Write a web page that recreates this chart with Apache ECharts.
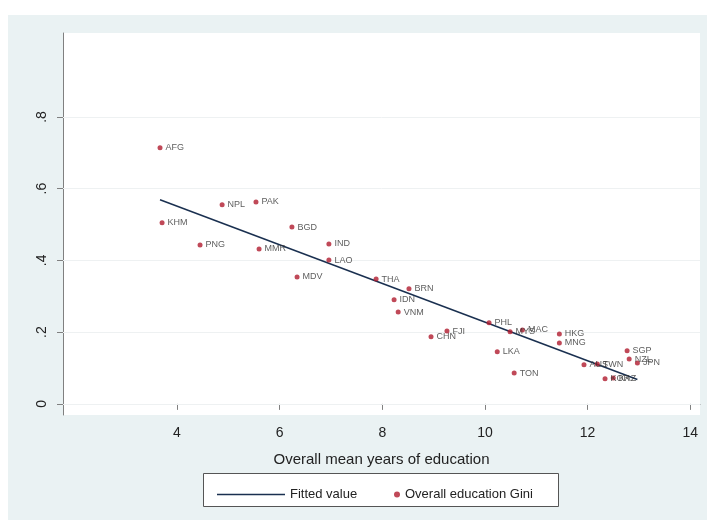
<!DOCTYPE html>
<html><head><meta charset="utf-8">
<script src="https://cdn.jsdelivr.net/npm/echarts@6/dist/echarts.min.js"></script>
<style>html,body{margin:0;padding:0;background:#fff}#c{width:707px;height:520px}</style>
</head><body><div id="c"></div>
<script>
// Data
const countries = ['AFG','KHM','NPL','PAK','PNG','MMR','BGD','IND','LAO','MDV','THA','BRN','IDN','VNM','FJI','CHN','PHL','MYS','MAC','LKA','TON','HKG','MNG','AUS','TWN','SGP','NZL','JPN','KOR','KAZ'];
const meanYears = [3.67,3.71,4.88,5.54,4.45,5.60,6.24,6.96,6.96,6.34,7.88,8.52,8.23,8.31,9.26,8.95,10.08,10.49,10.73,10.24,10.57,11.45,11.45,11.93,12.19,12.77,12.81,12.97,12.34,12.50];
const eduGini = [0.714,0.505,0.555,0.563,0.443,0.432,0.493,0.446,0.401,0.354,0.348,0.321,0.290,0.256,0.203,0.187,0.226,0.201,0.206,0.145,0.086,0.195,0.170,0.109,0.111,0.148,0.125,0.114,0.070,0.072];
const fitX = [3.67, 12.97];
const fitY = [0.569, 0.068];
const xTicks = [4,6,8,10,12,14];
const yTicks = [0,0.2,0.4,0.6,0.8];
const yTickLabels = ['0','.2','.4','.6','.8'];

const font = 'Liberation Sans, Arial, sans-serif';
const chart = echarts.init(document.getElementById('c'), null, {renderer:'canvas'});
const scatterData = countries.map((n,i)=>({name:n, value:[meanYears[i], eduGini[i]]}));
const fitData = fitX.map((x,i)=>[x, fitY[i]]);

chart.setOption({
  backgroundColor:'#ffffff',
  animation:false,
  textStyle:{fontFamily:font},
  graphic:[
    {type:'rect', z:-10, silent:true, shape:{x:8,y:15,width:699,height:505}, style:{fill:'#eaf2f3'}},
    {type:'rect', z:-5, silent:true, shape:{x:203.5,y:473.5,width:355,height:33}, style:{fill:'#ffffff', stroke:'#555', lineWidth:1}}
  ],
  grid:{left:63, top:33, right:7, bottom:105, show:true, backgroundColor:'#ffffff', borderWidth:0},
  xAxis:{
    type:'value', min:1.78, max:14.19,
    name:'Overall mean years of education', nameLocation:'middle', nameGap:37,
    nameTextStyle:{fontSize:15, color:'#222', fontFamily:font},
    axisLine:{show:true, lineStyle:{color:'#808080', width:1}},
    axisTick:{show:true, length:6, customValues:xTicks, lineStyle:{color:'#808080'}},
    axisLabel:{customValues:xTicks, fontSize:14, color:'#222', margin:11, fontFamily:font},
    splitLine:{show:false}
  },
  yAxis:{
    type:'value', min:-0.031, max:1.034,
    axisLine:{show:true, lineStyle:{color:'#808080', width:1}},
    axisTick:{show:true, length:6, customValues:yTicks, lineStyle:{color:'#808080'}},
    axisLabel:{customValues:yTicks, rotate:90, fontSize:14, color:'#222', margin:14, fontFamily:font,
      formatter:(v)=>{const i=yTicks.findIndex(t=>Math.abs(t-v)<1e-6); return i>=0?yTickLabels[i]:'';}},
    splitLine:{show:false}
  },
  legend:[
    {data:[{name:'Fitted value', icon:'rect'}], left:212, top:483, itemWidth:68, itemHeight:1.5, itemGap:10,
     textStyle:{fontSize:13, color:'#222', fontFamily:font}},
    {data:[{name:'Overall education Gini', icon:'circle'}], left:389, top:483, itemWidth:6, itemHeight:6,
     textStyle:{fontSize:13, color:'#222', fontFamily:font}}
  ],
  series:[
    {
      name:'Overall education Gini', type:'scatter', data:scatterData,
      symbol:'circle', symbolSize:5, itemStyle:{color:'#b01c2e'}, z:3,
      label:{show:true, position:'right', distance:3, formatter:'{b}', fontSize:9, color:'#333', fontFamily:font},
      markLine:{silent:true, symbol:'none', label:{show:false}, z:1,
        lineStyle:{color:'#eef1f2', width:1, type:'solid'},
        data:yTicks.map(v=>({yAxis:v}))}
    },
    {
      name:'Fitted value', type:'line', data:fitData, symbol:'none', z:2,
      lineStyle:{color:'#1a3050', width:1.5}, itemStyle:{color:'#1a3050'}
    }
  ]
});
</script></body></html>
